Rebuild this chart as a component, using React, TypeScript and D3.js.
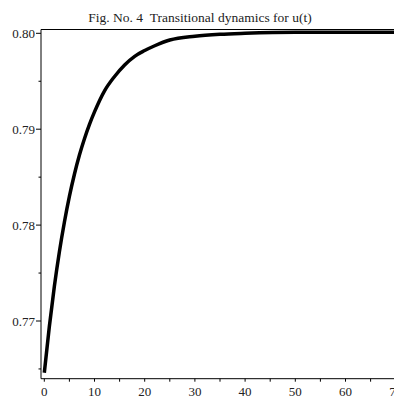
import React from "react";
import * as d3 from "d3";

const tValues = [0, 1, 2, 3, 4, 5, 6, 7, 8, 9, 10, 12, 14, 16, 18, 20, 22, 25, 30, 35, 40, 50, 60, 70];
const uValues = [0.7646, 0.7694, 0.7736, 0.7772, 0.7803, 0.783, 0.7853, 0.7873, 0.789, 0.7905, 0.7918, 0.794, 0.7955, 0.7967, 0.7976, 0.7982, 0.7987, 0.7993, 0.7997, 0.7999, 0.8, 0.8001, 0.8001, 0.8001];
const xTickValues = [0, 10, 20, 30, 40, 50, 60, 70];
const xMinorTicks = [5, 15, 25, 35, 45, 55, 65];
const yTickValues = [0.77, 0.78, 0.79, 0.8];
const yMinorTicks = [0.765, 0.775, 0.785, 0.795];
const title = "Fig. No. 4\u00a0\u00a0Transitional dynamics for u(t)";

export default function App() {
  const W = 394;
  const H = 405;
  const left = 41;
  const top = 29.5;
  const bottom = 378.7;
  const x = d3.scaleLinear().domain([0, 70]).range([44.3, 395.7]);
  const y = d3.scaleLinear().domain([0.77, 0.8]).range([321, 33.3]);
  const data = tValues.map((t, i) => [t, uValues[i]] as [number, number]);
  const line = d3
    .line<[number, number]>()
    .x((d) => x(d[0]))
    .y((d) => y(d[1]))
    .curve(d3.curveMonotoneX);
  const textStyle = { fontFamily: "Liberation Serif, DejaVu Serif, serif" };
  return (
    <svg
      width={W}
      height={H}
      style={{ position: "absolute", left: 0, top: 0, background: "#fff" }}
    >
      <rect x={0} y={0} width={W} height={H} fill="#fff" />
      <text x={200} y={22} textAnchor="middle" fontSize={13.5} fill="#222" style={textStyle}>
        {title}
      </text>
      <line x1={left} x2={W + 5} y1={top} y2={top} stroke="#000" strokeWidth={1} />
      <line x1={left} x2={left} y1={top} y2={bottom} stroke="#000" strokeWidth={1} />
      <line x1={left} x2={W + 5} y1={bottom} y2={bottom} stroke="#000" strokeWidth={1} />
      {xTickValues.map((t) => (
        <g key={"xt" + t}>
          <line x1={x(t)} x2={x(t)} y1={bottom} y2={bottom + 3} stroke="#000" strokeWidth={1} />
          <text x={x(t)} y={395.5} textAnchor="middle" fontSize={13} fill="#222" style={textStyle}>
            {t}
          </text>
        </g>
      ))}
      {xMinorTicks.map((t) => (
        <line key={"xm" + t} x1={x(t)} x2={x(t)} y1={bottom} y2={bottom + 3} stroke="#000" strokeWidth={1} />
      ))}
      {yTickValues.map((v) => (
        <g key={"yt" + v}>
          <line x1={left - 5} x2={left} y1={y(v)} y2={y(v)} stroke="#000" strokeWidth={1} />
          <text x={left - 6} y={y(v) + 4.5} textAnchor="end" fontSize={13} fill="#222" style={textStyle}>
            {v.toFixed(2)}
          </text>
        </g>
      ))}
      {yMinorTicks.map((v) => (
        <line key={"ym" + v} x1={left - 2.5} x2={left} y1={y(v)} y2={y(v)} stroke="#000" strokeWidth={1} />
      ))}
      <path d={line(data) ?? ""} fill="none" stroke="#000" strokeWidth={3.5} strokeLinecap="butt" />
    </svg>
  );
}
